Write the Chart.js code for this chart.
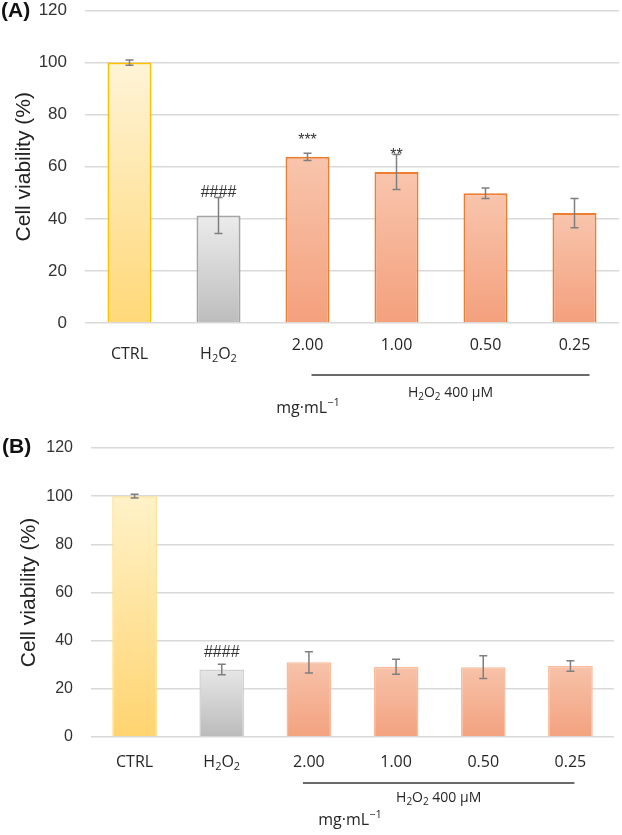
<!DOCTYPE html>
<html>
<head>
<meta charset="utf-8">
<script src="https://cdn.jsdelivr.net/npm/chart.js@4.4.0/dist/chart.umd.min.js"></script>
<style>
  body { margin: 0; background: #fff; }
  #page { position: relative; width: 622px; height: 835px; overflow: hidden; }
  #chartA { position: absolute; left: 0; top: -16px; }
  #chartB { position: absolute; left: 0; top: 422px; }
</style>
</head>
<body>
<div id="page">
  <canvas id="chartA" width="622" height="446"></canvas>
  <canvas id="chartB" width="622" height="413"></canvas>
</div>
<script>
// values
const categories = ['CTRL', 'H₂O₂', '2.00', '1.00', '0.50', '0.25'];
const viabilityA = [100, 41.3, 63.8, 58.0, 49.8, 42.2];
const errorA = [1.0, 6.9, 1.4, 6.7, 2.0, 5.6];
const marksA = ['', '####', '***', '**', '', ''];
const viabilityB = [100, 28.0, 31.0, 29.2, 29.0, 29.5];
const errorB = [0.8, 2.2, 4.4, 3.1, 4.7, 2.2];
const marksB = ['', '####', '', '', '', ''];
const yTicks = [0, 20, 40, 60, 80, 100, 120];
const treatmentLabel = 'H₂O₂ 400 µM';
const unitLabel = 'mg·mL⁻¹';

const SUBS = '₀₁₂₃₄₅₆₇₈₉';

// draws text with sub/superscript characters, centred on x
function drawRich(ctx, text, x, y, size, family, color) {
  const runs = [];
  for (const ch of text) {
    let kind = 'n', c = ch;
    const si = SUBS.indexOf(ch);
    if (si >= 0) { kind = 'sub'; c = String(si); }
    else if (ch === '⁻') { kind = 'sup'; c = '−'; }
    else if (ch === '¹') { kind = 'sup'; c = '1'; }
    const last = runs[runs.length - 1];
    if (last && last.kind === kind) last.t += c; else runs.push({ kind, t: c });
  }
  const small = Math.round(size * 0.7);
  let total = 0;
  runs.forEach(r => {
    ctx.font = (r.kind === 'n' ? size : small) + 'px ' + family;
    r.w = ctx.measureText(r.t).width;
    total += r.w;
  });
  let cx = x - total / 2;
  ctx.fillStyle = color;
  ctx.textAlign = 'left';
  ctx.textBaseline = 'middle';
  runs.forEach(r => {
    ctx.font = (r.kind === 'n' ? size : small) + 'px ' + family;
    const dy = r.kind === 'sub' ? size * 0.3 : r.kind === 'sup' ? -size * 0.35 : 0;
    ctx.fillText(r.t, cx, y + dy);
    cx += r.w;
  });
}

// vertical gradient spanning each bar, light at the top
function barFill(fills) {
  return function (ctx) {
    const f = fills[ctx.dataIndex] || fills[0];
    const chart = ctx.chart;
    if (ctx.type !== 'data' || !chart.chartArea) return f[1];
    const y = chart.scales.y;
    const y0 = y.getPixelForValue(ctx.parsed.y);
    const y1 = y.getPixelForValue(0);
    const g = chart.ctx.createLinearGradient(0, y0, 0, y1);
    g.addColorStop(0, f[0]);
    g.addColorStop(1, f[1]);
    return g;
  };
}

const extras = {
  id: 'extras',
  afterDatasetsDraw(chart, args, opts) {
    const ctx = chart.ctx;
    const x = chart.scales.x, y = chart.scales.y;
    const meta = chart.getDatasetMeta(0);
    const vals = chart.data.datasets[0].data;
    ctx.save();
    // error bars
    ctx.strokeStyle = '#7f7f7f';
    ctx.lineWidth = 1.5;
    meta.data.forEach((bar, i) => {
      const top = y.getPixelForValue(vals[i] + opts.errors[i]);
      const bot = y.getPixelForValue(vals[i] - opts.errors[i]);
      ctx.beginPath();
      ctx.moveTo(bar.x, top); ctx.lineTo(bar.x, bot);
      ctx.moveTo(bar.x - 4, top); ctx.lineTo(bar.x + 4, top);
      ctx.moveTo(bar.x - 4, bot); ctx.lineTo(bar.x + 4, bot);
      ctx.stroke();
      if (opts.marks[i]) {
        ctx.fillStyle = '#333';
        ctx.font = '16px "Liberation Sans", Arial, sans-serif';
        ctx.textAlign = 'center';
        ctx.textBaseline = 'alphabetic';
        ctx.fillText(opts.marks[i], bar.x, top + opts.markDy[i]);
      }
    });
    // category labels
    categories.forEach((c, i) => {
      drawRich(ctx, c, x.getPixelForTick(i), opts.labelY + opts.labelDy[i], 16, '"Open Sans", sans-serif', '#262626');
    });
    // bracket under treated groups
    const b = opts.bracket;
    ctx.strokeStyle = '#3a3a3a';
    ctx.lineWidth = 1.4;
    ctx.beginPath();
    ctx.moveTo(x.getPixelForTick(2) + b.dx0, b.y);
    ctx.lineTo(x.getPixelForTick(5) + b.dx1, b.y);
    ctx.stroke();
    const mid = (x.getPixelForTick(2) + b.dx0 + x.getPixelForTick(5) + b.dx1) / 2;
    drawRich(ctx, treatmentLabel, mid, b.textY, 14, '"Open Sans", sans-serif', '#262626');
    drawRich(ctx, unitLabel, opts.unit.x, opts.unit.y, 16, '"Open Sans", sans-serif', '#262626');
    // panel letter
    ctx.fillStyle = '#111';
    ctx.font = 'bold 21px "Liberation Sans", Arial, sans-serif';
    ctx.textAlign = 'left';
    ctx.textBaseline = 'middle';
    ctx.fillText(opts.letter.text, opts.letter.x, opts.letter.y);
    ctx.restore();
  }
};

function makeChart(id, values, cfg) {
  return new Chart(document.getElementById(id), {
    type: 'bar',
    data: {
      labels: categories,
      datasets: [{
        data: values,
        backgroundColor: barFill(cfg.fills),
        borderColor: cfg.borders,
        borderWidth: cfg.borderWidth,
        barPercentage: 0.9,
        categoryPercentage: cfg.catPct
      }]
    },
    options: {
      responsive: false,
      animation: false,
      layout: { padding: cfg.padding },
      plugins: {
        legend: { display: false },
        tooltip: { enabled: false },
        extras: cfg.extras
      },
      scales: {
        x: {
          grid: { display: false },
          border: { display: false },
          ticks: { display: false },
          afterFit: s => { s.height = cfg.xHeight; }
        },
        y: {
          min: 0,
          max: 120,
          afterBuildTicks: s => { s.ticks = yTicks.map(v => ({ value: v })); },
          afterFit: s => { s.width = cfg.yWidth; },
          grid: { color: '#d9d9d9', lineWidth: 1.5, drawTicks: false },
          border: { display: false },
          ticks: {
            padding: 18,
            color: '#333',
            font: { family: '"Liberation Sans", Arial, sans-serif', size: cfg.tickSize, lineHeight: 1 }
          },
          title: {
            display: true,
            text: 'Cell viability (%)',
            color: '#222',
            font: { family: '"Liberation Sans", Arial, sans-serif', size: 21 }
          }
        }
      }
    },
    plugins: [extras]
  });
}

makeChart('chartA', viabilityA, {
  fills: [['#fff4d8', '#ffd878'], ['#ececec', '#bdbdbd'], ['#f8c5ad', '#f4a07c'],
          ['#f8c5ad', '#f4a07c'], ['#f8c5ad', '#f4a07c'], ['#f8c5ad', '#f4a07c']],
  borders: ['#ffc000', '#a5a5a5', '#ed7d31', '#ed7d31', '#ed7d31', '#ed7d31'],
  borderWidth: 2,
  catPct: 0.55,
  padding: { left: 8, right: 3, top: 0, bottom: 0 },
  xHeight: 107,
  yWidth: 77,
  tickSize: 17,
  extras: {
    errors: errorA,
    marks: marksA,
    markDy: [0, 0, -8, 5, 0, 0],
    labelY: 361,
    labelDy: [9, 9, 0, 0, 0, 0],
    bracket: { dx0: 4, dx1: 15, y: 391, textY: 409 },
    unit: { x: 308, y: 424 },
    letter: { text: '(A)', x: 1, y: 27 }
  }
});

makeChart('chartB', viabilityB, {
  fills: [['#fff2c8', '#ffd470'], ['#e6e6e6', '#bbbbbb'], ['#f7c2a9', '#f3a27f'],
          ['#f7c2a9', '#f3a27f'], ['#f7c2a9', '#f3a27f'], ['#f7c2a9', '#f3a27f']],
  borders: ['#ffe08a', '#d0d0d0', '#f9bb9a', '#f9bb9a', '#f9bb9a', '#f9bb9a'],
  borderWidth: 1.5,
  catPct: 0.57,
  padding: { left: 13, right: 8, top: 0, bottom: 0 },
  xHeight: 98,
  yWidth: 78,
  tickSize: 16,
  extras: {
    errors: errorB,
    marks: marksB,
    markDy: [0, -7, 0, 0, 0, 0],
    labelY: 340,
    labelDy: [0, 0, 0, 0, 0, 0],
    bracket: { dx0: -6, dx1: 4, y: 361, textY: 376 },
    unit: { x: 350, y: 398 },
    letter: { text: '(B)', x: 2, y: 25 }
  }
});
</script>
</body>
</html>
